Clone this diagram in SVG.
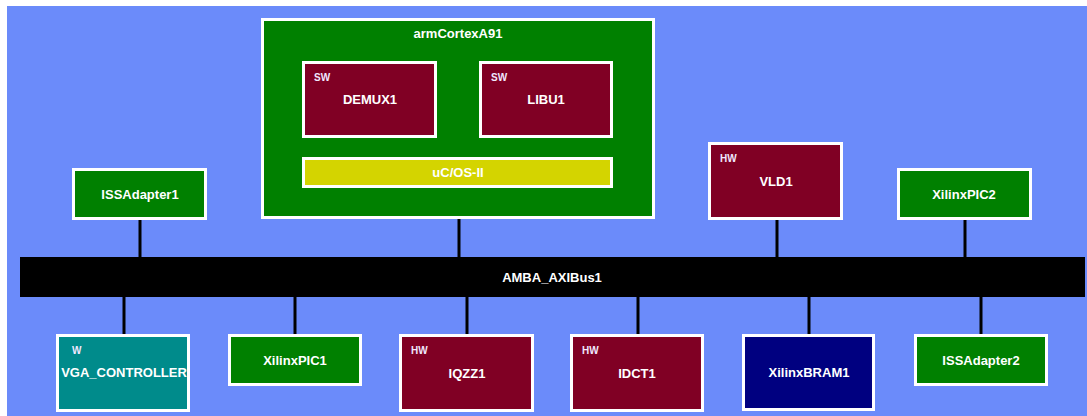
<svg xmlns="http://www.w3.org/2000/svg" width="1087" height="416" viewBox="0 0 1087 416">
<style>
.box{stroke:#fff;stroke-width:3}
.green{fill:#008000}
.maroon{fill:#800024}
.yellow{fill:#d4d400}
.teal{fill:#008b8b}
.navy{fill:#000080}
.lbl{font-family:"Liberation Sans",Arial,sans-serif;font-weight:bold;font-size:13px;fill:#fff;text-anchor:middle}
.tag{font-family:"Liberation Sans",Arial,sans-serif;font-weight:bold;font-size:10px;fill:#f0e8ff}
.wire{stroke:#000;stroke-width:3;fill:none}
</style>
<rect x="0" y="0" width="1087" height="416" fill="#fff"/>
<rect x="7" y="6" width="1080" height="410" fill="#6b8bfa"/>
<g id="connectors">
<line class="wire" x1="140" y1="220" x2="140" y2="257"/>
<line class="wire" x1="459" y1="219" x2="459" y2="257"/>
<line class="wire" x1="777" y1="220" x2="777" y2="257"/>
<line class="wire" x1="965" y1="220" x2="965" y2="257"/>
<line class="wire" x1="124" y1="297" x2="124" y2="334"/>
<line class="wire" x1="295" y1="297" x2="295" y2="334"/>
<line class="wire" x1="467" y1="297" x2="467" y2="334"/>
<line class="wire" x1="638" y1="297" x2="638" y2="334"/>
<line class="wire" x1="809" y1="297" x2="809" y2="334"/>
<line class="wire" x1="981" y1="297" x2="981" y2="334"/>
</g>
<g id="armCortexA91">
<rect class="box green" x="262.5" y="19.5" width="391" height="198"/>
<text class="lbl" x="458" y="38">armCortexA91</text>
</g>
<g id="DEMUX1">
<rect class="box maroon" x="303.5" y="62.5" width="132" height="74"/>
<text class="tag" x="314" y="81">SW</text>
<text class="lbl" x="370" y="104">DEMUX1</text>
</g>
<g id="LIBU1">
<rect class="box maroon" x="480.5" y="62.5" width="131" height="74"/>
<text class="tag" x="491" y="81">SW</text>
<text class="lbl" x="546" y="104">LIBU1</text>
</g>
<g id="ucos">
<rect class="box yellow" x="303.5" y="158.5" width="308" height="28"/>
<text class="lbl" x="458" y="177">uC/OS-II</text>
</g>
<g id="ISSAdapter1">
<rect class="box green" x="73.5" y="169.5" width="132" height="49"/>
<text class="lbl" x="140" y="199">ISSAdapter1</text>
</g>
<g id="VLD1">
<rect class="box maroon" x="709.5" y="143.5" width="132" height="75"/>
<text class="tag" x="720" y="162">HW</text>
<text class="lbl" x="776" y="186">VLD1</text>
</g>
<g id="XilinxPIC2">
<rect class="box green" x="898.5" y="169.5" width="132" height="49"/>
<text class="lbl" x="964" y="199">XilinxPIC2</text>
</g>
<g id="AMBA_AXIBus1">
<rect x="20" y="257" width="1065" height="40" fill="#000"/>
<text class="lbl" x="552" y="282">AMBA_AXIBus1</text>
</g>
<g id="VGA_CONTROLLER">
<rect class="box teal" x="57.5" y="335.5" width="131" height="75"/>
<text class="tag" x="72" y="354">W</text>
<text class="lbl" x="124" y="377">VGA_CONTROLLER</text>
</g>
<g id="XilinxPIC1">
<rect class="box green" x="229.5" y="335.5" width="131" height="49"/>
<text class="lbl" x="295" y="365">XilinxPIC1</text>
</g>
<g id="IQZZ1">
<rect class="box maroon" x="400.5" y="335.5" width="132" height="75"/>
<text class="tag" x="411" y="354">HW</text>
<text class="lbl" x="467" y="378">IQZZ1</text>
</g>
<g id="IDCT1">
<rect class="box maroon" x="571.5" y="335.5" width="131" height="75"/>
<text class="tag" x="582" y="354">HW</text>
<text class="lbl" x="637" y="378">IDCT1</text>
</g>
<g id="XilinxBRAM1">
<rect class="box navy" x="743.5" y="335.5" width="130" height="74"/>
<text class="lbl" x="809" y="377">XilinxBRAM1</text>
</g>
<g id="ISSAdapter2">
<rect class="box green" x="915.5" y="335.5" width="131" height="49"/>
<text class="lbl" x="981" y="365">ISSAdapter2</text>
</g>
</svg>
